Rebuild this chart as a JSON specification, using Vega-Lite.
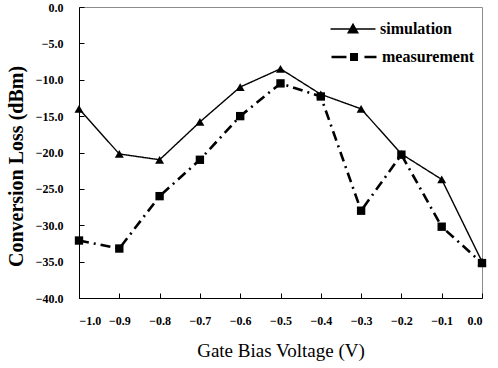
{
  "$schema": "https://vega.github.io/schema/vega-lite/v6.json",
  "width": 403,
  "height": 291,
  "autosize": "none",
  "padding": {"left": 79, "top": 7, "right": 16, "bottom": 70},
  "background": "white",
  "config": {
    "view": {"stroke": "#8c8c8c", "strokeWidth": 1},
    "font": "Liberation Serif",
    "legend": {
      "orient": "none",
      "title": null,
      "padding": 0,
      "labelFont": "Liberation Serif",
      "labelFontWeight": "bold",
      "labelFontSize": 16,
      "labelColor": "black",
      "labelOffset": 15,
      "symbolSize": 506,
      "symbolFillColor": "black",
      "symbolStrokeColor": "black"
    }
  },
  "data": {
    "values": [
      {"v": -1.0, "loss": -14.0, "series": "simulation"},
      {"v": -0.9, "loss": -20.2, "series": "simulation"},
      {"v": -0.8, "loss": -21.0, "series": "simulation"},
      {"v": -0.7, "loss": -15.8, "series": "simulation"},
      {"v": -0.6, "loss": -11.0, "series": "simulation"},
      {"v": -0.5, "loss": -8.5, "series": "simulation"},
      {"v": -0.4, "loss": -12.0, "series": "simulation"},
      {"v": -0.3, "loss": -14.0, "series": "simulation"},
      {"v": -0.2, "loss": -20.2, "series": "simulation"},
      {"v": -0.1, "loss": -23.7, "series": "simulation"},
      {"v": 0.0, "loss": -35.0, "series": "simulation"},
      {"v": -1.0, "loss": -32.1, "series": "measurement"},
      {"v": -0.9, "loss": -33.2, "series": "measurement"},
      {"v": -0.8, "loss": -26.0, "series": "measurement"},
      {"v": -0.7, "loss": -21.0, "series": "measurement"},
      {"v": -0.6, "loss": -15.0, "series": "measurement"},
      {"v": -0.5, "loss": -10.5, "series": "measurement"},
      {"v": -0.4, "loss": -12.3, "series": "measurement"},
      {"v": -0.3, "loss": -28.0, "series": "measurement"},
      {"v": -0.2, "loss": -20.3, "series": "measurement"},
      {"v": -0.1, "loss": -30.2, "series": "measurement"},
      {"v": 0.0, "loss": -35.2, "series": "measurement"}
    ]
  },
  "encoding": {
    "x": {
      "field": "v",
      "type": "quantitative",
      "scale": {"domain": [-1, 0], "nice": false, "zero": false},
      "axis": {
        "values": [-1.0, -0.9, -0.8, -0.7, -0.6, -0.5, -0.4, -0.3, -0.2, -0.1, 0.0],
        "format": ".1f",
        "grid": false,
        "domainColor": "black",
        "domainWidth": 1,
        "tickColor": "black",
        "tickSize": -5,
        "labelFont": "Liberation Serif",
        "labelFontWeight": "bold",
        "labelFontSize": 12,
        "labelColor": "black",
        "labelPadding": 22,
        "title": "Gate Bias Voltage (V)",
        "titleFont": "Liberation Serif",
        "titleFontWeight": "normal",
        "titleFontSize": 19,
        "titleColor": "black",
        "titlePadding": 15
      }
    },
    "y": {
      "field": "loss",
      "type": "quantitative",
      "scale": {"domain": [-40, 0], "nice": false},
      "axis": {
        "values": [-40, -35, -30, -25, -20, -15, -10, -5, 0],
        "format": ".1f",
        "grid": false,
        "domainColor": "black",
        "domainWidth": 1,
        "tickColor": "black",
        "tickSize": -5,
        "labelFont": "Liberation Serif",
        "labelFontWeight": "bold",
        "labelFontSize": 12,
        "labelColor": "black",
        "labelPadding": 21,
        "title": "Conversion Loss (dBm)",
        "titleFont": "Liberation Serif",
        "titleFontWeight": "bold",
        "titleFontSize": 20,
        "titleColor": "black",
        "titlePadding": 9,
        "titleY": 159
      }
    }
  },
  "resolve": {"scale": {"color": "independent"}, "legend": {"color": "independent"}},
  "layer": [
    {
      "mark": {"type": "line", "color": "black"},
      "encoding": {
        "detail": {"field": "series", "type": "nominal"},
        "strokeDash": {
          "condition": {"test": "datum.series === 'measurement'", "value": [10, 5, 2, 5]},
          "value": [1, 0]
        },
        "strokeWidth": {
          "condition": {"test": "datum.series === 'measurement'", "value": 2.6},
          "value": 1.4
        }
      }
    },
    {
      "transform": [{"filter": "datum.series === 'simulation'"}],
      "mark": {"type": "point", "filled": true, "opacity": 1, "size": 80, "shape": "triangle-up"},
      "encoding": {
        "color": {
          "field": "series",
          "type": "nominal",
          "scale": {"domain": ["simulation"], "range": ["black"]},
          "legend": {
            "legendX": 262,
            "legendY": 10,
            "symbolType": "M-2,0H2M-0.42,0.33L0,-0.42L0.42,0.33Z",
            "symbolStrokeWidth": 1.5
          }
        }
      }
    },
    {
      "transform": [{"filter": "datum.series === 'measurement'"}],
      "mark": {"type": "point", "filled": true, "opacity": 1, "size": 70, "shape": "square"},
      "encoding": {
        "color": {
          "field": "series",
          "type": "nominal",
          "scale": {"domain": ["measurement"], "range": ["black"]},
          "legend": {
            "legendX": 262,
            "legendY": 37,
            "symbolType": "M-2,0H-0.67M-0.24,-0.24H0.24V0.24H-0.24ZM0.93,0H2",
            "symbolStrokeWidth": 2.6
          }
        }
      }
    }
  ]
}
